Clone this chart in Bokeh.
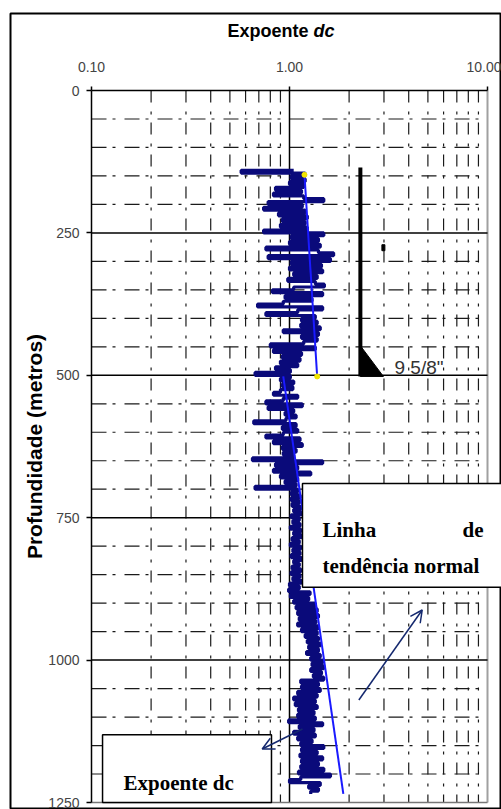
import numpy as np
from bokeh.plotting import figure
from bokeh.models import (Range1d, LinearAxis, LogAxis, FixedTicker, Label,
                          Arrow, OpenHead)
from bokeh.embed import file_html
from bokeh.resources import INLINE

# ---------------- data ----------------
x_ticks = [0.1, 1.0, 10.0]
x_tick_labels = ["0.10", "1.00", "10.00"]
x_minor = [0.2, 0.3, 0.4, 0.5, 0.6, 0.7, 0.8, 0.9, 2, 3, 4, 5, 6, 7, 8, 9]
y_ticks = [0, 250, 500, 750, 1000, 1250]
y_tick_labels = ["0", "250", "500", "750", "1000", "1250"]
y_minor = [50, 100, 150, 200, 300, 350, 400, 450, 550, 600, 650, 700,
           800, 850, 900, 950, 1050, 1100, 1150, 1200]

# dc exponent log, sampled every 5 m from 140 m
depth_start, depth_step = 140, 5
dc_values = [
    1.05, 0.57, 1.20, 1.02, 1.20, 1.00, 1.18, 0.85, 1.15, 0.83,   # 140-185
    1.18, 1.49, 0.78, 1.16, 0.74, 1.20, 0.88, 1.23, 0.92, 1.20,   # 190-235
    0.90, 1.23, 0.74, 1.49, 1.02, 1.40, 1.00, 1.43, 0.76, 1.40,   # 240-285
    1.67, 0.78, 1.61, 1.02, 1.45, 1.00, 1.47, 1.05, 1.38, 0.98,   # 290-335
    1.35, 1.50, 1.05, 0.82, 1.47, 0.95, 1.30, 0.93, 0.69, 1.47,   # 340-385
    1.10, 0.76, 1.35, 1.15, 1.38, 1.14, 1.43, 0.93, 1.40, 1.15,   # 390-435
    1.38, 1.18, 0.80, 1.35, 0.83, 1.15, 0.92, 1.13, 0.90, 1.10,   # 440-485
    0.85, 1.01, 0.67, 1.01, 0.90, 1.05, 0.92, 1.04, 0.90, 0.83,   # 490-535
    1.10, 0.93, 0.76, 1.16, 0.78, 1.05, 0.95, 1.08, 0.96, 0.66,   # 540-585
    1.08, 0.92, 1.10, 0.93, 0.76, 1.13, 0.83, 1.16, 0.92, 1.08,   # 590-635
    0.93, 1.05, 0.65, 1.47, 0.85, 1.10, 0.83, 1.28, 0.90, 1.10,   # 640-685
    0.95, 1.08, 0.67, 1.10, 1.02, 1.13, 1.02, 1.12, 1.03, 1.14,   # 690-735
    1.05, 1.15, 1.02, 1.12, 1.04, 1.13, 1.01, 1.14, 1.05, 1.15,   # 740-785
    1.03, 1.12, 1.01, 1.14, 1.04, 1.13, 1.02, 1.15, 1.05, 1.12,   # 790-835
    1.03, 1.14, 1.02, 1.13, 1.04, 1.15, 1.00, 1.12, 0.99, 1.27,   # 840-885
    1.01, 1.25, 1.05, 1.35, 1.08, 1.38, 1.10, 1.40, 1.12, 1.36,   # 890-935
    1.10, 1.40, 1.15, 1.38, 1.20, 1.40, 1.23, 1.43, 1.25, 1.40,   # 940-985
    1.22, 1.43, 1.28, 1.47, 1.30, 1.49, 1.28, 1.45, 1.32, 1.49,   # 990-1035
    1.14, 1.40, 1.15, 1.43, 1.10, 1.38, 1.05, 1.35, 1.07, 1.38,   # 1040-1085
    1.11, 1.33, 1.10, 1.35, 0.99, 1.47, 1.12, 1.33, 1.05, 1.35,   # 1090-1135
    1.10, 1.30, 1.14, 1.49, 1.15, 1.38, 1.13, 1.47, 1.15, 1.40,   # 1140-1185
    1.14, 1.49, 1.11, 1.61, 1.14, 1.00, 1.43, 1.25, 1.40, 1.28,   # 1190-1235
]
depth = depth_start + depth_step * np.arange(len(dc_values))

# normal trend lines
trend1_depth = [148, 502]
trend1_dc = [1.19, 1.38]
trend2_depth = [502, 1235]
trend2_dc = [0.93, 1.87]

# casing shoe marker (9 5/8")
casing_dc = 2.28
casing_top = 135
casing_shoe = 502
shoe_tri_dc = [2.28, 2.28, 2.98]
shoe_tri_depth = [448, 502, 502]
mark_dc = [2.98]
mark_depth = [276]
casing_text = '9 5/8"'

# annotation boxes [left, right, top, bottom]
box_trend = [1.163, 13.0, 690, 872]
box_dc = [0.1137, 0.811, 1131, 1250]

# arrows (start -> end)
arrow_trend = [2.24, 1070, 4.68, 912]
arrow_dc = [1.163, 1121, 0.728, 1156]

# ---------------- layout ----------------
W, H = 501, 809
FL, FT = 10, 13              # frame left/top (outer border)
PX01, DEC = 91, 198          # pixel of 0.1 and pixels per decade
PY0, PPM = 90, 712 / 1250    # pixel of depth 0, pixels per metre

x_start = 10 ** (-1 - (PX01 - FL) / DEC)
x_end = 10 ** (-1 + (W - PX01) / DEC)
y_top = -(PY0 - FT) / PPM
y_bot = (H - PY0) / PPM

p = figure(width=W, height=H, output_backend="svg", toolbar_location=None,
           x_axis_type="log", x_axis_location=None, y_axis_location=None,
           x_range=Range1d(x_start, x_end), y_range=Range1d(y_bot, y_top),
           min_border_left=FL, min_border_top=FT, min_border_right=0,
           min_border_bottom=0, background_fill_color="white",
           border_fill_color="white")
p.outline_line_color = "black"
p.outline_line_width = 2
p.xgrid.visible = False
p.ygrid.visible = False

GRID_COL = "#1a1a1a"
# minor grid
p.segment(x0=x_minor, x1=x_minor, y0=[y_ticks[0]] * len(x_minor),
          y1=[y_ticks[-1]] * len(x_minor), line_color=GRID_COL,
          line_width=1.2, line_dash="12 9 3 8")
p.segment(x0=[x_ticks[0]] * len(y_minor), x1=[x_ticks[-1]] * len(y_minor),
          y0=y_minor, y1=y_minor, line_color=GRID_COL, line_width=1.2,
          line_dash="15 6 3 9")
# major grid
p.segment(x0=x_ticks[1:2], x1=x_ticks[1:2], y0=[y_ticks[0]], y1=[y_ticks[-1]],
          line_color="black", line_width=1.5)
p.segment(x0=x_ticks[2:], x1=x_ticks[2:], y0=[y_ticks[0]], y1=[y_ticks[-1]],
          line_color="#a0a0a0", line_width=2)
p.segment(x0=[x_ticks[0]] * 4, x1=[x_ticks[-1]] * 4, y0=y_ticks[1:-1],
          y1=y_ticks[1:-1], line_color="black", line_width=1.5)
p.segment(x0=[x_ticks[0]], x1=[x_ticks[-1]], y0=y_ticks[-1:], y1=y_ticks[-1:],
          line_color="#777777", line_width=1.5)

# axes
yaxis = LinearAxis(fixed_location=x_ticks[0], bounds=(y_ticks[0], y_ticks[-1]),
                   ticker=FixedTicker(ticks=y_ticks, minor_ticks=[]),
                   major_label_overrides={t: l for t, l in zip(y_ticks, y_tick_labels)},
                   axis_line_color="black", axis_line_width=1.5,
                   major_tick_out=5, major_tick_in=0, major_tick_line_width=1.5,
                   minor_tick_line_color=None, major_label_standoff=7,
                   major_label_text_font="Liberation Sans",
                   major_label_text_font_size="14px",
                   major_label_text_color="#444444",
                   axis_label="Profundidade (metros)",
                   axis_label_text_font="Liberation Sans",
                   axis_label_text_font_style="bold",
                   axis_label_text_font_size="21px",
                   axis_label_text_color="black",
                   axis_label_standoff=-1)
p.add_layout(yaxis, "left")

xaxis = LogAxis(fixed_location=y_ticks[0], bounds=(x_ticks[0], x_ticks[-1]),
                ticker=FixedTicker(ticks=x_ticks, minor_ticks=[]),
                major_label_overrides={t: l for t, l in zip(x_ticks, x_tick_labels)},
                axis_line_color="black", axis_line_width=1.5,
                major_tick_out=4, major_tick_in=0, major_tick_line_width=1.5,
                minor_tick_line_color=None, major_label_standoff=15,
                major_label_text_font="Liberation Sans",
                major_label_text_font_size="14px",
                major_label_text_color="#444444")
p.add_layout(xaxis, "above")

# dc curve (drawn as a depth log: horizontal strokes per sample) and trends
p.step(dc_values, depth, mode="after", line_color="#0a0a7a", line_width=3.2)
p.line(trend1_dc, trend1_depth, line_color="#1a1aff", line_width=2)
p.line(trend2_dc, trend2_depth, line_color="#1a1aff", line_width=2)
p.scatter(trend1_dc, trend1_depth, size=5, color="#f2e600")

# casing marker
p.segment(x0=[casing_dc], x1=[casing_dc], y0=[casing_top], y1=[casing_shoe],
          line_color="black", line_width=4)
p.patch(shoe_tri_dc, shoe_tri_depth, color="black")
p.rect(mark_dc, mark_depth, width=3, height=6, width_units="screen",
       height_units="screen", color="black")
p.add_layout(Label(x=3.39, y=486, text=casing_text, text_font="Liberation Sans",
                   text_font_size="19px", text_color="#333333",
                   text_baseline="alphabetic"))

# title
TITLE_Y = -105
p.add_layout(Label(x=1.247, y=TITLE_Y, text="Expoente", text_font="Liberation Sans",
                   text_font_style="bold", text_font_size="18px",
                   text_align="right", text_baseline="alphabetic",
                   text_color="black"))
p.add_layout(Label(x=1.322, y=TITLE_Y, text="dc", text_font="Liberation Sans",
                   text_font_style="bold italic", text_font_size="18px",
                   text_align="left", text_baseline="alphabetic",
                   text_color="black"))

# annotation boxes
for b in (box_trend, box_dc):
    p.quad(left=[b[0]], right=[b[1]], top=[b[2]], bottom=[b[3]],
           fill_color="white", line_color="black", line_width=1.5)

SERIF = "Liberation Serif"
for x, y, t, a in [(1.468, 771, "Linha", "left"), (9.546, 771, "de", "right"),
                   (1.468, 834, "tendência normal", "left"),
                   (0.1451, 1215, "Expoente dc", "left")]:
    p.add_layout(Label(x=x, y=y, text=t, text_font=SERIF, text_font_style="bold",
                       text_font_size="21px", text_align=a,
                       text_baseline="alphabetic", text_color="black"))

# arrows
NAVY = "#14286e"
for a in (arrow_trend, arrow_dc):
    p.add_layout(Arrow(end=OpenHead(size=12, line_color=NAVY, line_width=1.5),
                       x_start=a[0], y_start=a[1], x_end=a[2], y_end=a[3],
                       line_color=NAVY, line_width=1.5))

open("out.html", "w").write(file_html(p, INLINE))
